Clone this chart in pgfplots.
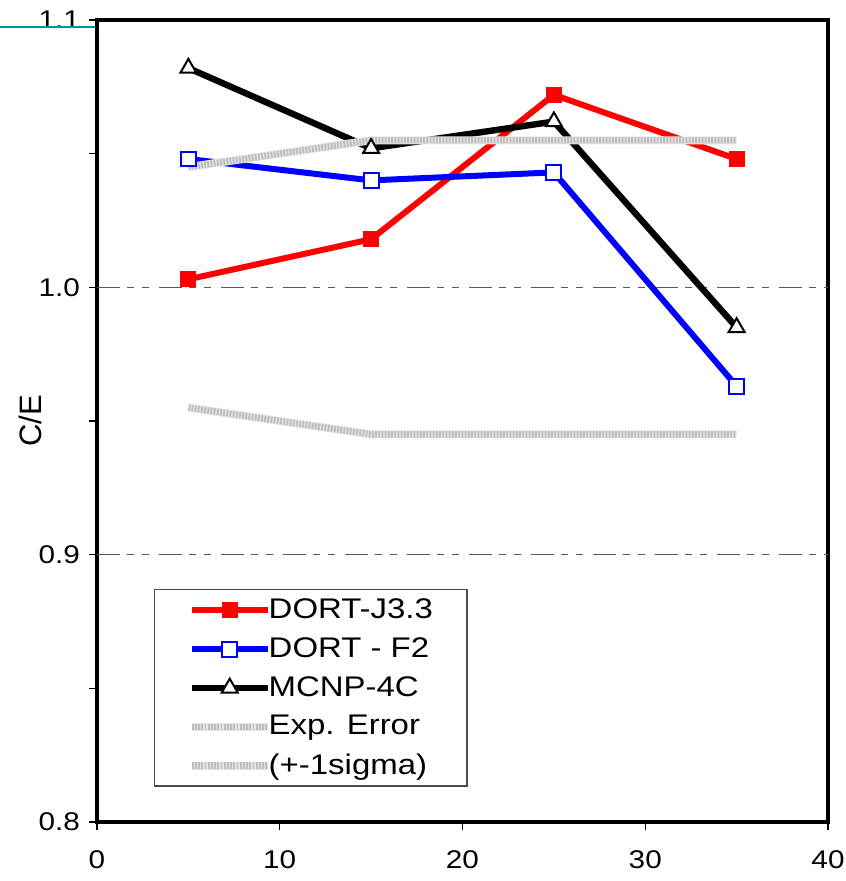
\documentclass[border=0pt]{standalone}
\usepackage{fontspec}
\setmainfont{Liberation Sans}[FakeStretch=1.16]
\newfontfamily\plainfont{Liberation Sans}
\usepackage{pgfplots}
\pgfplotsset{compat=1.18}

\definecolor{teal1}{RGB}{0,150,150}

\pgfplotsset{
  experr/.style={mark=none, line width=4pt, draw=gray!22,
    postaction={draw=gray!52, line width=3.2pt, dash pattern=on 0.9pt off 0.7pt}},
}

\begin{document}
\begin{tikzpicture}
\begin{axis}[
  at={(0,0)}, anchor=south west,
  scale only axis, width=365.5pt, height=401pt,
  xmin=0, xmax=40, ymin=0.8, ymax=1.1,
  xtick={0,10,20,30,40},
  xticklabels={0,10,20,30,40},
  ytick={0.8,0.85,0.9,0.95,1.0,1.05,1.1},
  yticklabels={0.8,,0.9,,1.0,,1.1},
  tick align=outside, xtick pos=bottom, ytick pos=left,
  major tick length=4pt,
  tick style={black, line width=0.6pt},
  axis line style={line width=2pt},
  /pgf/number format/assume math mode=true,
  ticklabel style={font=\fontsize{12.8}{15}\selectfont},
  xticklabel style={yshift=-7pt},
  yticklabel style={xshift=-1pt},
  extra y ticks={0.9,1.0},
  extra y tick labels={},
  extra y tick style={grid=major, major tick length=0pt,
    major grid style={black!65, line width=0.5pt,
      dash pattern=on 11.5pt off 3.5pt on 3.5pt off 4pt on 3.5pt off 5pt}},
  ylabel={\plainfont\fontsize{15.5}{18}\selectfont C/E},
  ylabel style={at={(axis description cs:-0.0917,0.5)}, anchor=center},
  legend cell align=left,
  legend style={
    at={(axis description cs:0.078,0.2905)}, anchor=north west,
    draw=black!70, line width=0.7pt,
    inner xsep=17pt, inner ysep=0.6pt,
    row sep=0pt, column sep=0pt,
    nodes={inner xsep=0pt, inner ysep=0pt, minimum height=19.4pt,
      font=\fontsize{14.2}{16}\selectfont},
  },
  legend image code/.code={%
    \pgfpathrectangle{\pgfpoint{-1.5pt}{-4pt}}{\pgfpoint{40pt}{8pt}}%
    \pgfusepath{use as bounding box}%
    \draw[mark repeat=2, mark phase=2, #1]
      plot coordinates {(0pt,0pt) (19pt,0pt) (38pt,0pt)};
  },
]

% DORT-J3.3
\addplot[red, line width=3pt, mark=square*,
  mark options={solid, fill=red, line width=0.5pt}, mark size=3.8pt]
  coordinates {(5,1.003) (15,1.018) (25,1.072) (35,1.048)};
\addlegendentry{DORT-J3.3}

% DORT - F2
\addplot[blue, line width=3pt, mark=square*,
  mark options={solid, draw=blue, fill=white, line width=1pt}, mark size=3.7pt]
  coordinates {(5,1.048) (15,1.040) (25,1.043) (35,0.963)};
\addlegendentry{DORT - F2}

% MCNP-4C
\addplot[black, line width=3.2pt, mark=triangle*,
  mark options={solid, draw=black, fill=white, line width=1pt}, mark size=4.6pt]
  coordinates {(5,1.082) (15,1.052) (25,1.062) (35,0.985)};
\addlegendentry{MCNP-4C}

% experimental uncertainty band, +1 sigma and -1 sigma
\addplot[experr] coordinates {(5,1.045) (15,1.055) (25,1.055) (35,1.055)};
\addlegendentry{Exp. Error}
\addplot[experr] coordinates {(5,0.955) (15,0.945) (25,0.945) (35,0.945)};
\addlegendentry{(+-1sigma)}

\end{axis}
\draw[teal1, line width=1pt] (-48.5pt,397.5pt) -- (-1pt,397.5pt);
\pgfresetboundingbox
\useasboundingbox (-48.5pt,-29.5pt) rectangle (374pt,411pt);
\end{tikzpicture}
\end{document}
